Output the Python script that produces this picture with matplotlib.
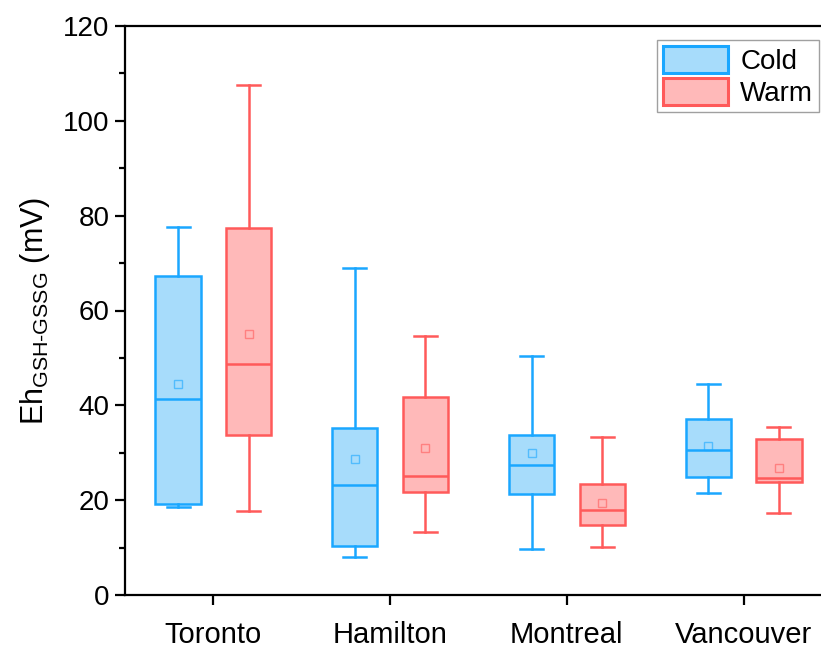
import numpy as np
import matplotlib
matplotlib.use('Agg')
import matplotlib.pyplot as plt
from matplotlib.patches import Patch
from matplotlib.ticker import MultipleLocator

plt.rcParams['font.family'] = ['Liberation Sans', 'DejaVu Sans']
plt.rcParams['mathtext.fontset'] = 'custom'
plt.rcParams['mathtext.rm'] = 'Liberation Sans'
plt.rcParams['mathtext.it'] = 'Liberation Sans'

# data (mV)
cities = ['Toronto', 'Hamilton', 'Montreal', 'Vancouver']
groups = ['Cold', 'Warm']

cold_lo = [18.6, 8.1, 9.8, 21.5]
cold_q1 = [19.1, 10.4, 21.2, 24.8]
cold_med = [41.4, 23.1, 27.4, 30.5]
cold_q3 = [67.2, 35.2, 33.7, 37.2]
cold_hi = [77.7, 68.9, 50.5, 44.6]
cold_mean = [44.6, 28.6, 30.0, 31.4]

warm_lo = [17.7, 13.2, 10.2, 17.2]
warm_q1 = [33.7, 21.8, 14.7, 23.9]
warm_med = [48.8, 25.1, 17.9, 24.7]
warm_q3 = [77.3, 41.8, 23.5, 33.0]
warm_hi = [107.5, 54.7, 33.3, 35.4]
warm_mean = [55.1, 30.9, 19.5, 26.7]

edge_cols = {'Cold': '#1aa7ff', 'Warm': '#ff5a5a'}
fill_cols = {'Cold': '#a7dcfb', 'Warm': '#ffb9b9'}


def make_stats(lo, q1, med, q3, hi, mean):
    return [dict(whislo=a, q1=b, med=c, q3=d, whishi=e, mean=f, fliers=[])
            for a, b, c, d, e, f in zip(lo, q1, med, q3, hi, mean)]


stats = {
    'Cold': make_stats(cold_lo, cold_q1, cold_med, cold_q3, cold_hi, cold_mean),
    'Warm': make_stats(warm_lo, warm_q1, warm_med, warm_q3, warm_hi, warm_mean),
}

fig = plt.figure(figsize=(8.21, 6.48), dpi=100)
ax = fig.add_axes([125 / 821, 1 - 595 / 648, (832 - 125) / 821, (595 - 26) / 648])

x = np.arange(1, len(cities) + 1)
offsets = {'Cold': -0.2, 'Warm': 0.2}
lw = 1.8

for g in groups:
    ec = edge_cols[g]
    ax.bxp(stats[g], positions=x + offsets[g], widths=0.255, capwidths=0.13,
           showmeans=True, showfliers=False, patch_artist=True,
           boxprops=dict(facecolor=fill_cols[g], edgecolor=ec, linewidth=lw),
           medianprops=dict(color=ec, linewidth=lw),
           whiskerprops=dict(color=ec, linewidth=lw),
           capprops=dict(color=ec, linewidth=lw),
           meanprops=dict(marker='s', markersize=5.5, markerfacecolor='none',
                          markeredgecolor=ec, markeredgewidth=1.0, alpha=0.6))

ax.set_xlim(0.5, 4.5)
ax.set_ylim(0, 120)
ax.set_xticks(x)
ax.set_xticklabels(cities)
ax.yaxis.set_major_locator(MultipleLocator(20))
ax.yaxis.set_minor_locator(MultipleLocator(10))
ax.tick_params(axis='both', which='major', direction='out', length=7, width=1.6, pad=4)
ax.tick_params(axis='y', which='major', labelsize=20)
ax.tick_params(axis='x', which='major', labelsize=21, pad=12)
ax.tick_params(axis='y', which='minor', direction='out', length=4, width=1.6)
ax.tick_params(axis='x', which='minor', bottom=False)
for s in ax.spines.values():
    s.set_linewidth(1.6)

ax.set_ylabel(r'Eh$_{\mathregular{GSH\text{-}GSSG}}$ (mV)', fontsize=22, labelpad=8)

handles = [Patch(facecolor=fill_cols[g], edgecolor=edge_cols[g], linewidth=2.2) for g in groups]
leg = ax.legend(handles, groups, loc='upper left', fontsize=20, frameon=True, fancybox=False,
                edgecolor='#888888', handlelength=2.35, handleheight=1.15, labelspacing=0.1,
                handletextpad=0.45, borderpad=0.2, borderaxespad=0)
leg.get_frame().set_linewidth(1.0)
leg.set_bbox_to_anchor((657 / 821, 1 - 40 / 648), transform=fig.transFigure)

fig.savefig('out.png', dpi=100)
